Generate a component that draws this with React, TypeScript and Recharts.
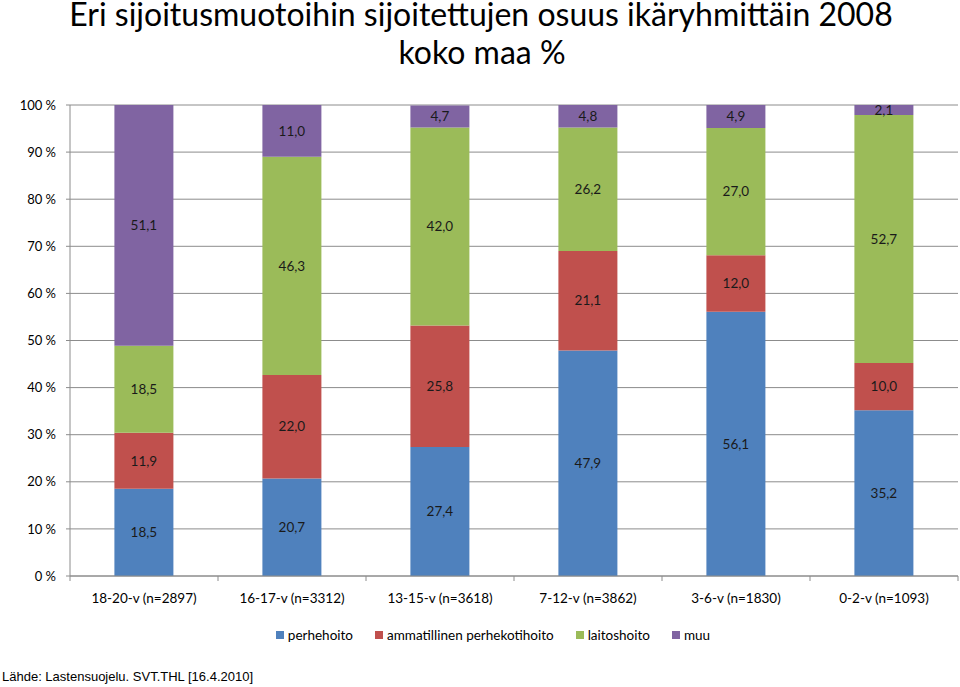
import { Bar, BarChart, CartesianGrid, LabelList, Legend, XAxis, YAxis } from "recharts";

const ageGroups = [
  "18-20-v (n=2897)",
  "16-17-v (n=3312)",
  "13-15-v (n=3618)",
  "7-12-v (n=3862)",
  "3-6-v (n=1830)",
  "0-2-v (n=1093)",
];
const perhehoito = [18.5, 20.7, 27.4, 47.9, 56.1, 35.2];
const ammatillinen = [11.9, 22.0, 25.8, 21.1, 12.0, 10.0];
const laitoshoito = [18.5, 46.3, 42.0, 26.2, 27.0, 52.7];
const muu = [51.1, 11.0, 4.7, 4.8, 4.9, 2.1];
const yTicks = [0, 10, 20, 30, 40, 50, 60, 70, 80, 90, 100];
const boundaryTicks = [0, 1, 2, 3, 4, 5, 6];

const rows = ageGroups.map((group, i) => ({
  group,
  idx: i + 0.5,
  perhehoito: perhehoito[i],
  ammatillinen: ammatillinen[i],
  laitoshoito: laitoshoito[i],
  muu: muu[i],
}));

const series = [
  { key: "perhehoito", name: "perhehoito", color: "#4F81BD" },
  { key: "ammatillinen", name: "ammatillinen perhekotihoito", color: "#C0504D" },
  { key: "laitoshoito", name: "laitoshoito", color: "#9BBB59" },
  { key: "muu", name: "muu", color: "#8064A2" },
];

const font = "Lato, 'Open Sans', sans-serif";
const fmt = (v: number) => v.toFixed(1).replace(".", ",");

function LegendRow() {
  return (
    <div style={{ display: "flex", justifyContent: "center", gap: 22, marginLeft: 28, fontSize: 13.5, fontFamily: font, color: "#000" }}>
      {series.map((s) => (
        <span key={s.key} style={{ display: "inline-flex", alignItems: "center" }}>
          <span style={{ width: 8, height: 8, background: s.color, marginRight: 4, display: "inline-block" }} />
          {s.name}
        </span>
      ))}
    </div>
  );
}

export default function App() {
  return (
    <div style={{ position: "absolute", left: 0, top: 0, width: 960, height: 687, background: "#fff", fontFamily: font }}>
      <svg width={960} height={72} style={{ position: "absolute", left: 0, top: 0 }}>
        <text x={481} y={26} textAnchor="middle" fontSize={32} fontFamily={font} fill="#000">
          Eri sijoitusmuotoihin sijoitettujen osuus ikäryhmittäin 2008
        </text>
        <text x={482} y={64} textAnchor="middle" fontSize={32} fontFamily={font} fill="#000">
          koko maa %
        </text>
      </svg>
      <div style={{ position: "absolute", top: 0, left: 0 }}>
        <BarChart
          width={960}
          height={643}
          data={rows}
          barCategoryGap="30%"
          margin={{ top: 105, right: 2, bottom: 0, left: 0 }}
        >
          <CartesianGrid vertical={false} stroke="#8c8c8c" xAxisId="cat" />
          <XAxis
            xAxisId={0}
            type="number"
            dataKey="idx"
            domain={[0, 6]}
            ticks={boundaryTicks}
            height={1}
            tick={() => <g />}
            tickSize={5}
            stroke="#8c8c8c"
          />
          <XAxis
            xAxisId="cat"
            dataKey="group"
            height={44}
            axisLine={false}
            tickLine={false}
            tickMargin={10}
            tick={{ fill: "#000", fontSize: 13.5, fontFamily: font }}
            interval={0}
          />
          <YAxis
            width={70}
            domain={[0, 100]}
            ticks={yTicks}
            tickFormatter={(v) => `${v} %`}
            tickSize={4}
            tickMargin={10}
            stroke="#8c8c8c"
            tick={{ fill: "#000", fontSize: 13, fontFamily: font }}
          />
          <Legend verticalAlign="bottom" wrapperStyle={{ paddingTop: 6 }} content={() => <LegendRow />} />
          {series.map((s) => (
            <Bar
              key={s.key}
              xAxisId="cat"
              dataKey={s.key}
              name={s.name}
              stackId="a"
              fill={s.color}
              isAnimationActive={false}
            >
              <LabelList
                dataKey={s.key}
                position="center"
                formatter={(v: number) => fmt(v)}
                style={{ fill: "#1a1a1a", fontSize: 13.5, fontFamily: font }}
              />
            </Bar>
          ))}
        </BarChart>
      </div>
      <div
        style={{
          position: "absolute",
          left: 2,
          top: 669,
          fontFamily: "'Liberation Sans', Arial, sans-serif",
          fontSize: 13,
          color: "#000",
        }}
      >
        Lähde: Lastensuojelu. SVT.THL [16.4.2010]
      </div>
    </div>
  );
}
